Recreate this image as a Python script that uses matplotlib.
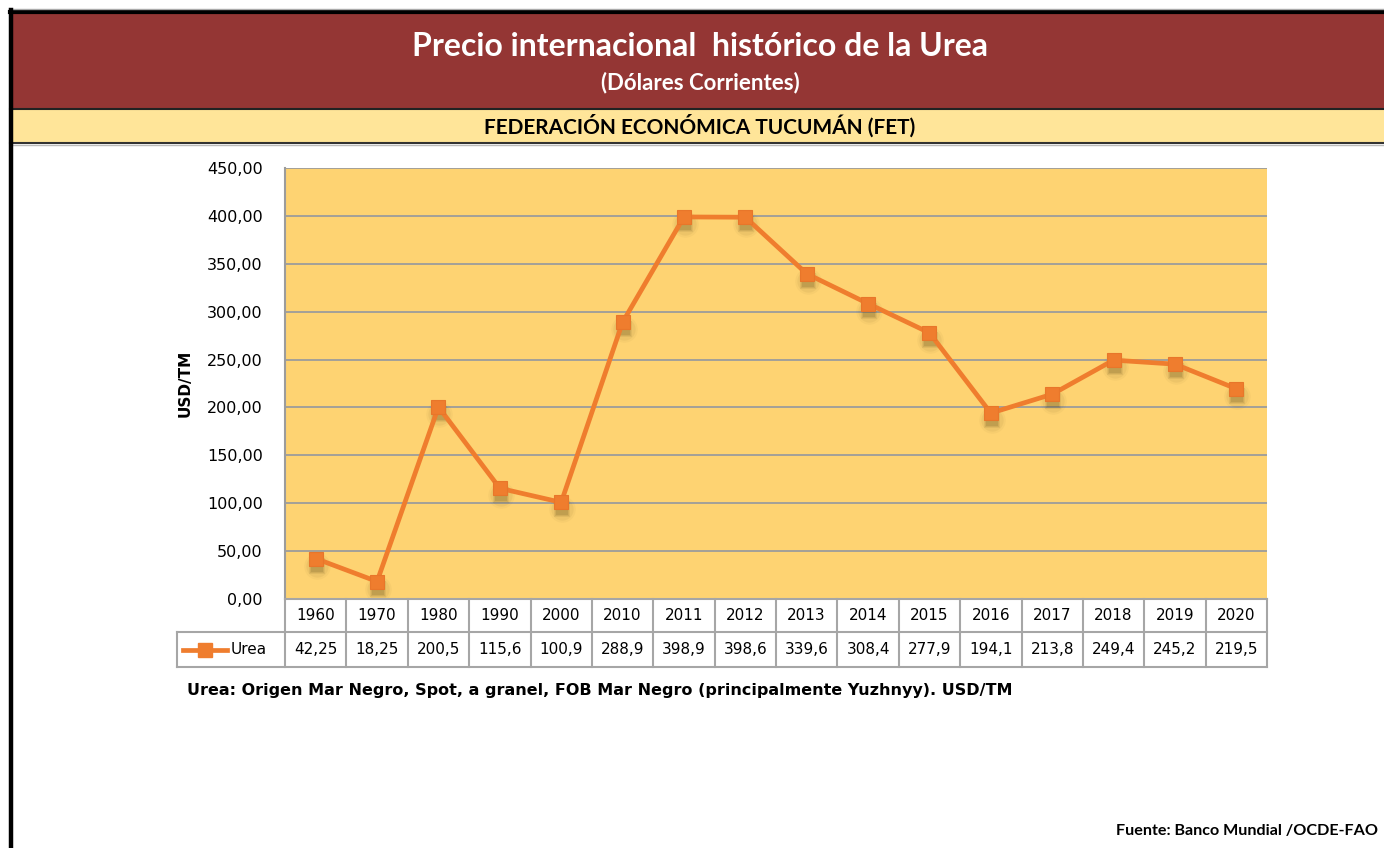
import numpy as np
import matplotlib
matplotlib.use("Agg")
import matplotlib.pyplot as plt
from matplotlib.patches import Rectangle
from matplotlib.lines import Line2D
from matplotlib.transforms import blended_transform_factory, offset_copy

# ---- data ----
years = ["1960", "1970", "1980", "1990", "2000", "2010", "2011", "2012",
         "2013", "2014", "2015", "2016", "2017", "2018", "2019", "2020"]
urea = [42.25, 18.25, 200.5, 115.6, 100.9, 288.9, 398.9, 398.6,
        339.6, 308.4, 277.9, 194.1, 213.8, 249.4, 245.2, 219.5]
series_name = "Urea"
y_ticks = [0, 50, 100, 150, 200, 250, 300, 350, 400, 450]

title = "Precio internacional  histórico de la Urea"
subtitle = "(Dólares Corrientes)"
band_text = "FEDERACIÓN ECONÓMICA TUCUMÁN (FET)"
note_text = "Urea: Origen Mar Negro, Spot, a granel, FOB Mar Negro (principalmente Yuzhnyy). USD/TM"
source_text = "Fuente: Banco Mundial /OCDE-FAO"

# ---- styling ----
W, H = 1384, 848
RED = "#943634"
BAND = "#FFE599"
PLOT_BG = "#FED372"
LINE = "#EF7D2E"
GRID = "#9C9C9C"
TITLE_FONT = ["Lato", "DejaVu Sans"]
BODY_FONT = ["DejaVu Sans"]


def fx(px):
    return px / W


def fy(py):
    return 1 - py / H


fig = plt.figure(figsize=(W / 100, H / 100), dpi=100)
fig.patch.set_facecolor("white")

# header bands
fig.patches.append(Rectangle((fx(12), fy(108)), 1, (108 - 13) / H,
                             transform=fig.transFigure, facecolor=RED,
                             edgecolor="none", zorder=0))
fig.patches.append(Rectangle((fx(12), fy(142)), 1, (142 - 109) / H,
                             transform=fig.transFigure, facecolor=BAND,
                             edgecolor="none", zorder=0))
for yy, col, lw in [(11.5, "black", 3.0), (108.5, "#222222", 1.5),
                    (142.5, "#333333", 1.5), (145, "#BBBBBB", 1.0),
                    (9, "#AAAAAA", 1.0)]:
    fig.add_artist(Line2D([fx(10), 1], [fy(yy), fy(yy)],
                          transform=fig.transFigure, color=col, lw=lw))
fig.add_artist(Line2D([fx(10.5), fx(10.5)], [fy(10), 0],
                      transform=fig.transFigure, color="black", lw=3.2))

fig.text(fx(700), fy(46), title, ha="center", va="center", color="white",
         fontsize=23, fontweight="bold", family=TITLE_FONT)
fig.text(fx(700), fy(83), subtitle, ha="center", va="center", color="white",
         fontsize=16, fontweight="bold", family=TITLE_FONT)
fig.text(fx(700), fy(126), band_text, ha="center", va="center", color="black",
         fontsize=15, fontweight="bold", family=TITLE_FONT)

# ---- chart ----
L, R, T, B = 285, 1267, 168, 599
ax = fig.add_axes([fx(L), fy(B), (R - L) / W, (B - T) / H])
ax.set_facecolor(PLOT_BG)
x = np.arange(len(years))

# soft drop shadow under the markers (stacked translucent layers)
shadow_tr = offset_copy(ax.transData, fig=fig, x=1, y=-7, units="dots")
for mk, size, alpha in [("o", 19, 0.04), ("o", 16, 0.06), ("s", 12, 0.08),
                        ("s", 10, 0.10), ("s", 8, 0.12)]:
    ax.plot(x, urea, ls="none", marker=mk, ms=size, color="#4d3d10",
            markeredgewidth=0, alpha=alpha, transform=shadow_tr, zorder=2)

ax.plot(x, urea, color=LINE, lw=3.4, marker="s", ms=10,
        markerfacecolor=LINE, markeredgecolor="#E8762A", markeredgewidth=0.8,
        zorder=3)
ax.set_xlim(-0.5, len(years) - 0.5)
ax.set_ylim(0, 450)
ax.set_yticks(y_ticks)
ax.set_yticklabels([f"{v:.2f}".replace(".", ",") for v in y_ticks],
                   family=BODY_FONT, fontsize=11.5)
ax.set_xticks([])
ax.tick_params(axis="y", length=0, pad=16)
ax.grid(axis="y", color=GRID, lw=1.3)
ax.set_axisbelow(True)
for s in ["top", "right", "bottom"]:
    ax.spines[s].set_visible(False)
ax.spines["left"].set_color(GRID)
ax.spines["left"].set_linewidth(1.5)
ax.set_ylabel("USD/TM", family=BODY_FONT, fontsize=11, fontweight="bold",
              labelpad=10)

# ---- data table below the plot ----
ph = B - T
pw = R - L
y0 = 0.0
y1 = -(632 - B) / ph
y2 = -(667 - B) / ph
leg_left = -(L - 177) / pw
bt = blended_transform_factory(ax.transData, ax.transAxes)
tkw = dict(color="#A6A6A6", lw=1.5, clip_on=False, zorder=4)
n = len(years)
ax.add_line(Line2D([-0.5, n - 0.5], [y0, y0], transform=bt, **tkw))
for yy in (y1, y2):
    ax.add_line(Line2D([leg_left, 1], [yy, yy], transform=ax.transAxes, **tkw))
for i in range(n + 1):
    ax.add_line(Line2D([i - 0.5, i - 0.5], [y0, y2], transform=bt, **tkw))
ax.add_line(Line2D([leg_left, leg_left], [y1, y2], transform=ax.transAxes, **tkw))

for i, (yr, v) in enumerate(zip(years, urea)):
    ax.text(i, (y0 + y1) / 2, yr, transform=bt, ha="center", va="center",
            family=BODY_FONT, fontsize=11, clip_on=False)
    ax.text(i, (y1 + y2) / 2, f"{v:g}".replace(".", ","), transform=bt,
            ha="center", va="center", family=BODY_FONT, fontsize=11,
            clip_on=False)

ym = (y1 + y2) / 2
lx0 = leg_left + (183 - 177) / pw
lx1 = leg_left + (227 - 177) / pw
ax.add_line(Line2D([lx0, lx1], [ym, ym], transform=ax.transAxes, color=LINE,
                   lw=3.4, clip_on=False))
ax.add_line(Line2D([(lx0 + lx1) / 2], [ym], transform=ax.transAxes, color=LINE,
                   marker="s", ms=10, clip_on=False))
ax.text(leg_left + (231 - 177) / pw, ym, series_name, transform=ax.transAxes,
        ha="left", va="center", family=BODY_FONT, fontsize=11, clip_on=False)

# ---- notes ----
fig.text(fx(187), fy(690), note_text, ha="left", va="center",
         family=BODY_FONT, fontsize=11.5, fontweight="bold")
fig.text(fx(1378), fy(831), source_text, ha="right", va="center",
         family=TITLE_FONT, fontsize=11.6, fontweight="bold")

fig.savefig("out.png", dpi=100)
